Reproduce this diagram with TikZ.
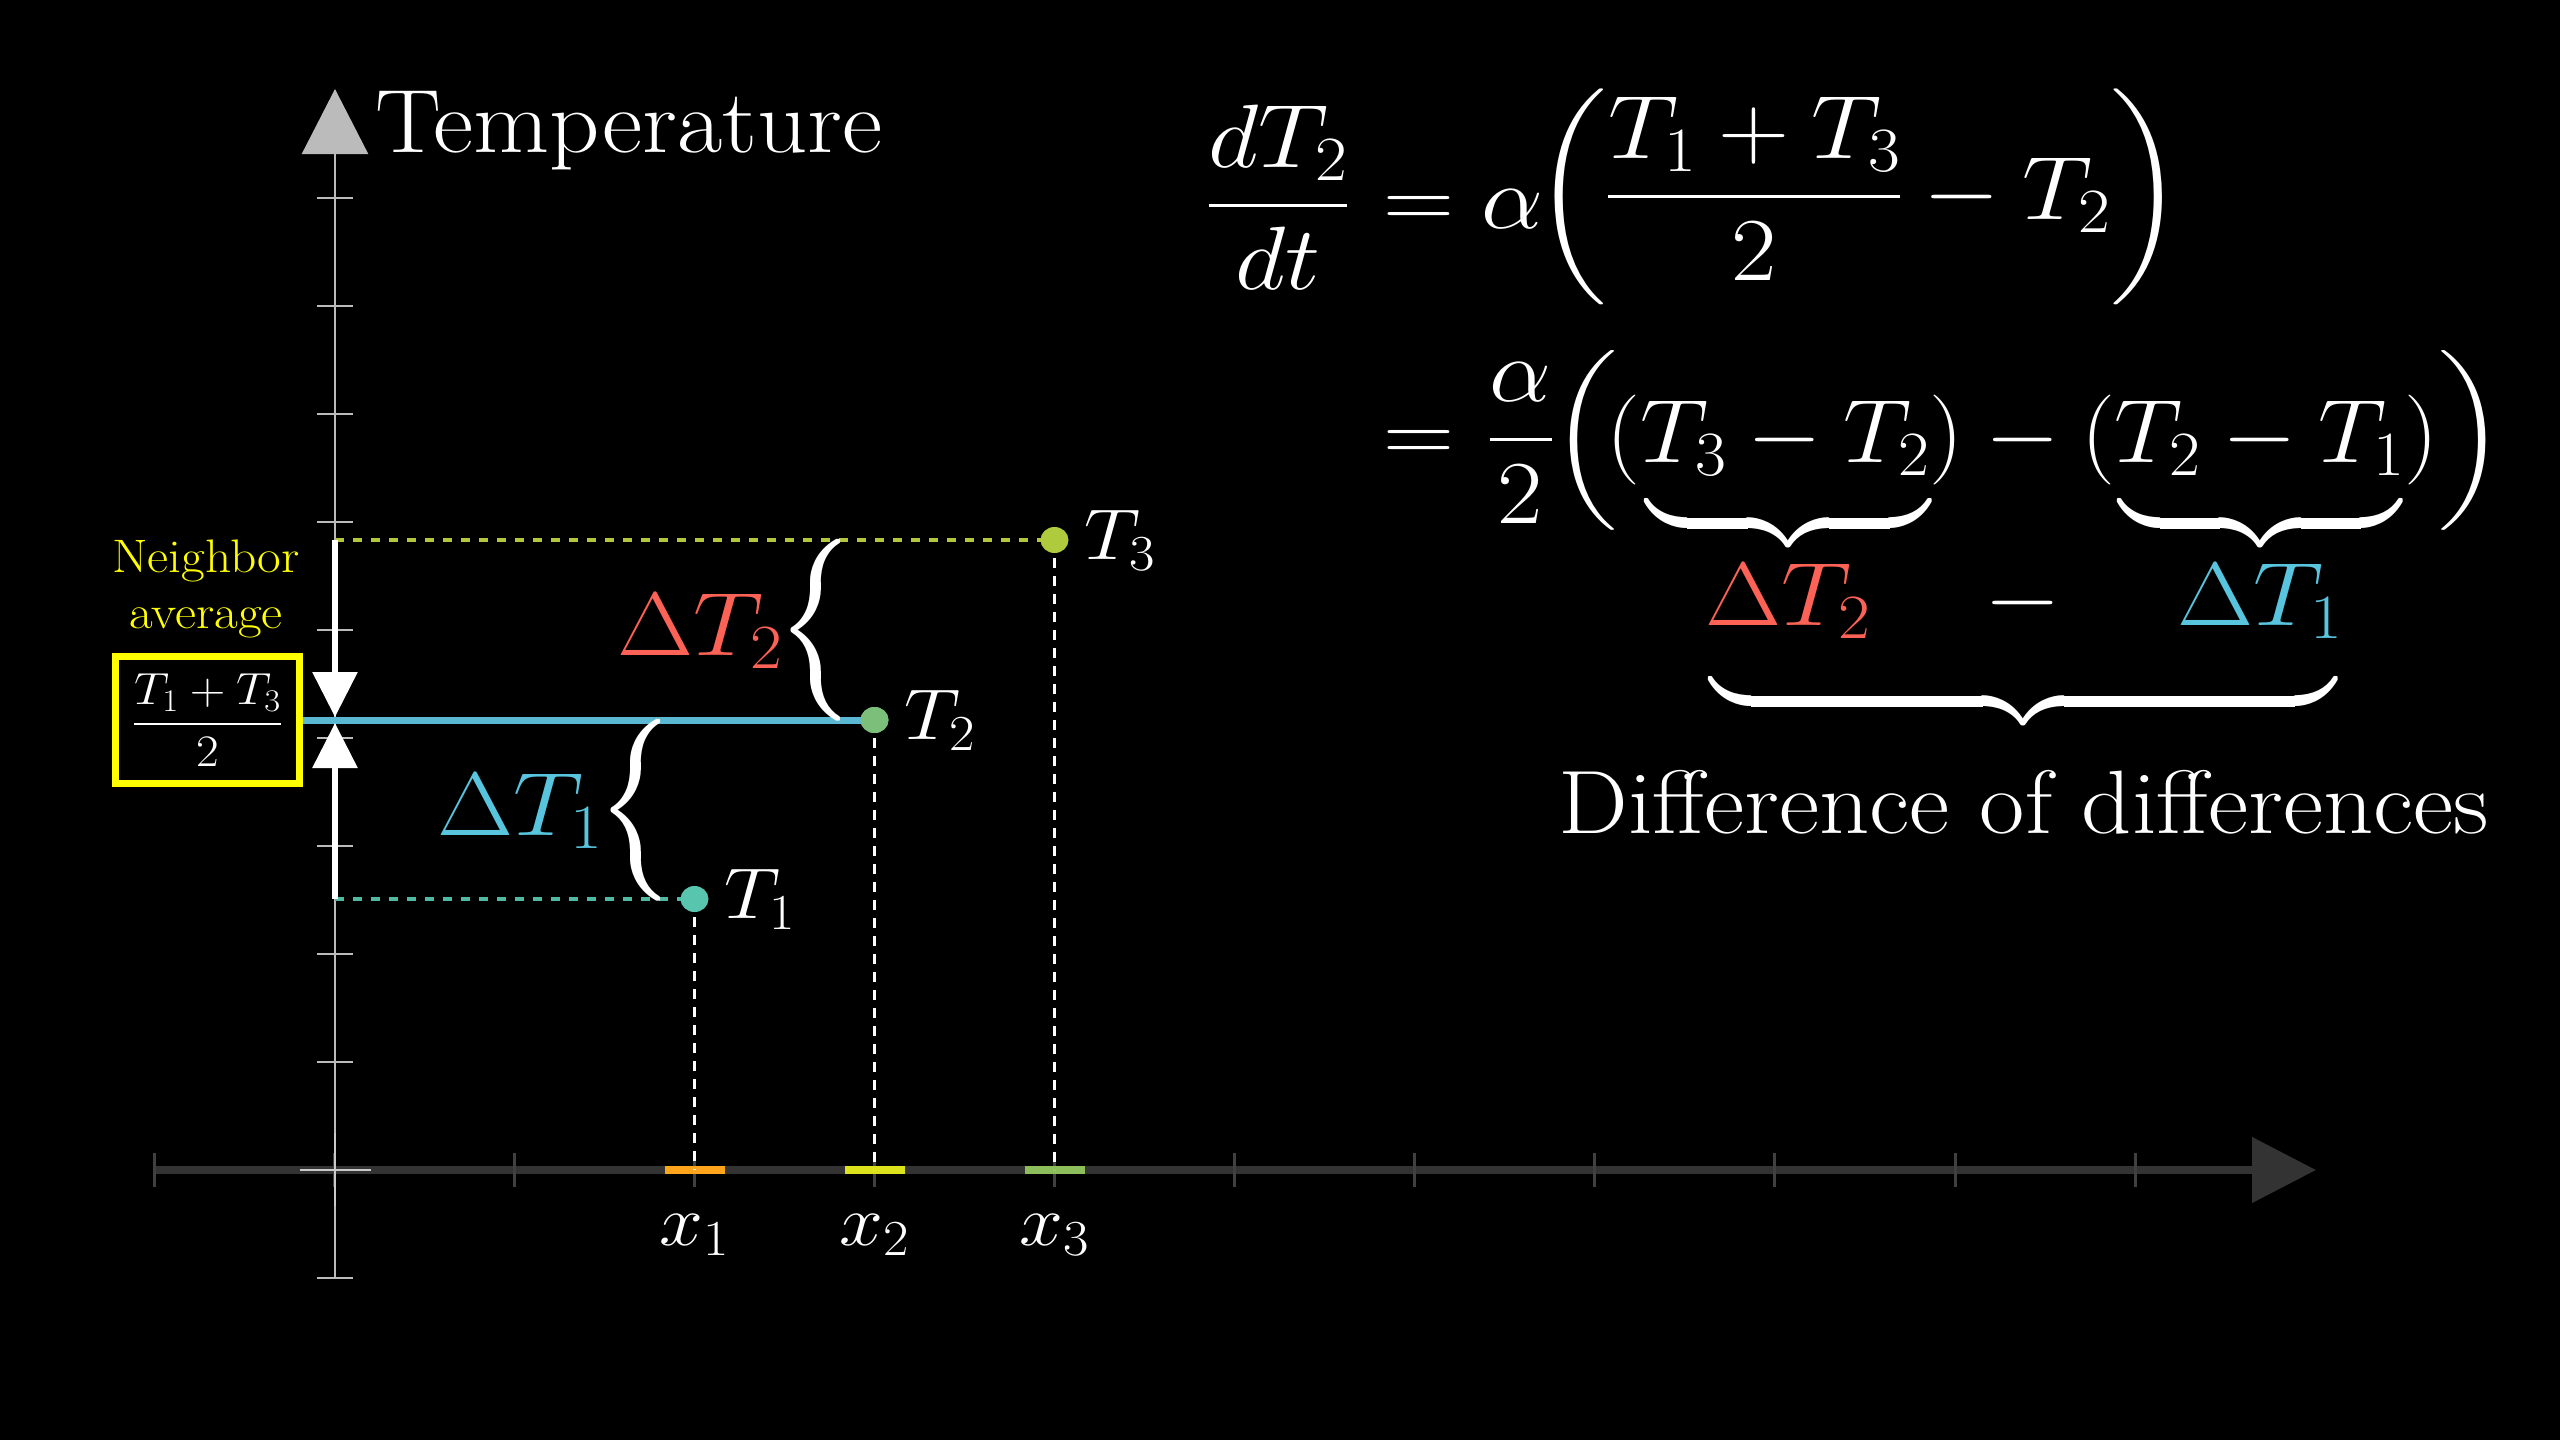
\RequirePackage{fix-cm}
\documentclass[tikz,border=0pt]{standalone}
\DeclareFontFamily{OMX}{cmexs}{}
\DeclareFontShape{OMX}{cmexs}{m}{n}{<->cmex10}{}
\DeclareSymbolFont{largesymbols}{OMX}{cmexs}{m}{n}
\usepackage{amsmath}
\usepackage{graphicx}
\usetikzlibrary{arrows.meta,shapes.geometric}
\newcommand{\wx}[1]{\scalebox{1.095}[1]{#1}}
\definecolor{axgray}{HTML}{BBBBBB}
\definecolor{xaxc}{HTML}{333333}
\definecolor{xtickc}{HTML}{404040}
\definecolor{dotone}{HTML}{58C6AF}
\definecolor{dottwo}{HTML}{7CBF7A}
\definecolor{dotthree}{HTML}{AFCB3D}
\definecolor{mkone}{HTML}{FFA51C}
\definecolor{mktwo}{HTML}{DCE21B}
\definecolor{mkthree}{HTML}{8CBF5C}
\definecolor{lineblue}{HTML}{5BB8D3}
\definecolor{dred}{HTML}{FC6255}
\definecolor{dblue}{HTML}{58C4DD}
\definecolor{yel}{HTML}{FFFF00}
\definecolor{dashthree}{HTML}{B3C63C}
\definecolor{dashone}{HTML}{4FB9A2}
\begin{document}
\begin{tikzpicture}[x=1pt,y=-1pt,
  eq/.style={text=white, inner sep=0pt, font=\fontsize{90}{108}\selectfont},
  lab/.style={text=white, inner sep=0pt, font=\fontsize{72}{86}\selectfont},
  smalltext/.style={inner sep=0pt, font=\fontsize{47}{56}\selectfont},
  dot/.style={ellipse, inner sep=0pt, minimum width=28pt, minimum height=26pt},
  vdash/.style={draw=white, line width=3.5pt, dash pattern=on 10pt off 8pt},
  hdash/.style={line width=3.5pt, dash pattern=on 9pt off 9pt},
  markerline/.style={line width=8pt},
  warrow/.style={draw=white, line width=6pt, -{Triangle[length=45pt,width=44pt]}, shorten >=3pt},
  bracenode/.style={eq, rotate=-90, anchor=south},
  ubrace/.style={eq, anchor=south}
]
\fill[black] (0,0) rectangle (2560,1440);
\useasboundingbox (0,0) rectangle (2560,1440);

% x axis
\coordinate (xs) at (154,1170);
\coordinate (xe) at (2316,1170);
\draw[xaxc, line width=8pt, -{Triangle[length=64pt,width=64pt]}] (xs) -- (xe);
\foreach \k in {0,...,11}
  \draw[xtickc, line width=3pt] ({154+180.1*\k},1153) -- ({154+180.1*\k},1187);

% y axis
\draw[axgray, line width=2.5pt, -{Triangle[length=65pt,width=66pt]}] (335,1278) -- (335,89);
\foreach \yy in {198,306,414,522,630,738,846,954,1062,1278}
  \draw[axgray, line width=2.5pt] (317,\yy) -- (353,\yy);
\draw[axgray!80, line width=2.5pt] (300,1170) -- (371,1170);
\draw[axgray!80, line width=2.5pt] (335,1133) -- (335,1206);

% markers on x axis
\draw[mkone, markerline] (664.5,1170) -- (724.5,1170);
\draw[mktwo, markerline] (844.5,1170) -- (904.5,1170);
\draw[mkthree, markerline] (1024.5,1170) -- (1084.5,1170);

% coordinates
\coordinate (a1) at (335,899);
\coordinate (a3) at (335,540);
\coordinate (am) at (335,720);
\coordinate (b1) at (694.5,1170);
\coordinate (b2) at (874.5,1170);
\coordinate (b3) at (1054.5,1170);
\coordinate (c1) at (694.5,899);
\coordinate (c2) at (874.5,720);
\coordinate (c3) at (1054.5,540);

% dashed guides
\draw[hdash, dashthree] (a3) -- (c3);
\draw[hdash, dashone] (a1) -- (c1);
\draw[vdash] (c1) -- (b1);
\draw[vdash] (c2) -- (b2);
\draw[vdash] (c3) -- (b3);

% neighbor average box and blue line
\node[draw=yel, line width=7pt, minimum width=184pt, minimum height=127pt, inner sep=0pt,
      text=white, font=\fontsize{45}{54}\selectfont] (avg) at (207.5,720) {\wx{$\dfrac{T_1+T_3}{2}$}};
\node[dot, fill=dottwo] (p2) at (c2) {};
\draw[lineblue, line width=7pt] (avg.east) -- (p2.center);
\node[dot, fill=dottwo] at (c2) {};
\node[dot, fill=dotone] (p1) at (c1) {};
\node[dot, fill=dotthree] (p3) at (c3) {};

\node[smalltext, text=yel, anchor=base] (nb1) at (206,572) {\wx{Neighbor}};
\node[smalltext, text=yel, anchor=base] (nb2) at (206,628) {\wx{average}};

% white arrows
\draw[warrow] (a3) -- (am);
\draw[warrow] (a1) -- (am);

% point labels
\node[lab, anchor=west] (t1) at (724.5,899) {\wx{$T_1$}};
\node[lab, anchor=west] (t2) at (904.5,720) {\wx{$T_2$}};
\node[lab, anchor=west] (t3) at (1084.5,540) {\wx{$T_3$}};
\node[lab] (x1) at (694.5,1235) {\wx{$x_1$}};
\node[lab] (x2) at (874.5,1235) {\wx{$x_2$}};
\node[lab] (x3) at (1054.5,1235) {\wx{$x_3$}};

% braces and delta labels on the graph
\node[bracenode] (br2) at (807,630) {$\underbrace{\hbox to 178pt{}}$};
\node[bracenode] (br1) at (627,810) {$\underbrace{\hbox to 178pt{}}$};
\node[eq, text=dred, anchor=base] (d2) at (700,655) {\wx{$\Delta T_2$}};
\node[eq, text=dblue, anchor=base] (d1) at (520,835) {\wx{$\Delta T_1$}};

% axis label
\node[eq, anchor=base west] (ylab) at (375,152) {\wx{Temperature}};

% equation line 1
\node[eq, anchor=base west] (eqa) at (1207,228) {\wx{$\displaystyle\frac{dT_2}{dt}$}};
\node[eq, anchor=base west] (eqb) at (1383,228) {\wx{$=\alpha$}};
\node[eq, anchor=base west] (eqc) at (1534,219) {\wx{$\left(\dfrac{T_1+T_3}{2}-T_2\right)$}};

% equation line 2
\node[eq, anchor=base west] (eqd) at (1383,462) {\wx{$=$}};
\node[eq, anchor=base west] (eqe) at (1488,462) {\wx{$\dfrac{\alpha}{2}$}};
\node[eq] (lp) at (1585,440) {\scalebox{1}[0.833]{$\left(\vcenter to 200pt{}\right.$}};
\node[eq, anchor=base west] (eqf) at (1606,462) {\scalebox{1.065}[1]{$(T_3-T_2)-(T_2-T_1)$}};
\node[eq] (rp) at (2471,440) {\scalebox{1}[0.833]{$\left.\vcenter to 200pt{}\right)$}};
\node[ubrace] (ub1) at (1788,532) {$\underbrace{\hbox to 284pt{}}$};
\node[ubrace] (ub2) at (2260,532) {$\underbrace{\hbox to 282pt{}}$};

% difference row
\node[eq, text=dred, anchor=base] (d2r) at (1788,625) {\wx{$\Delta T_2$}};
\node[eq, anchor=base] (mn) at (2023,625) {\wx{$-$}};
\node[eq, text=dblue, anchor=base] (d1r) at (2260,625) {\wx{$\Delta T_1$}};
\node[ubrace] (bigbr) at (2023,710) {$\underbrace{\hbox to 625pt{}}$};
\node[eq, anchor=base] (dod) at (2024,833) {\wx{Difference of differences}};
\end{tikzpicture}
\end{document}
